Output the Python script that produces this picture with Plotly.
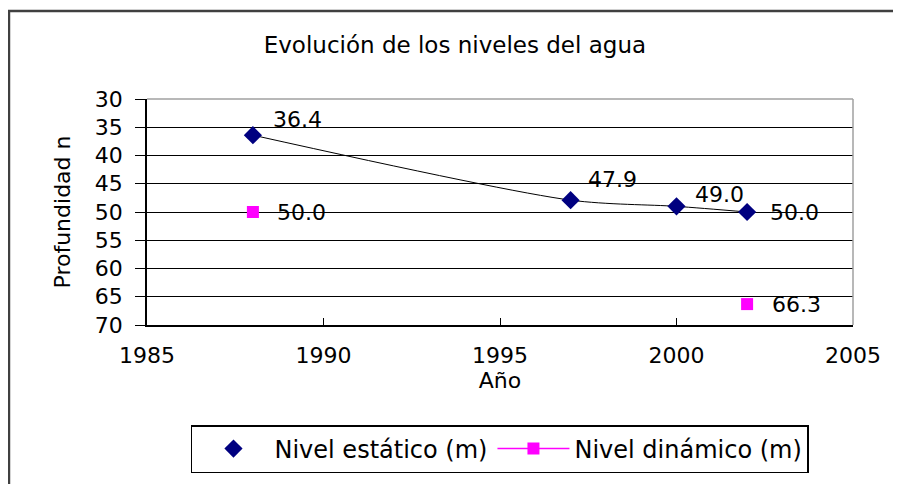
import plotly.graph_objects as go

# ---- data ----
anios_estatico = [1988, 1997, 2000, 2002]
nivel_estatico = [36.4, 47.9, 49.0, 50.0]
anios_dinamico = [1988, 1997, 2000, 2002]
nivel_dinamico = [50.0, None, None, 66.3]
y_ticks = [30, 35, 40, 45, 50, 55, 60, 65, 70]
x_ticks = [1985, 1990, 1995, 2000, 2005]

FONT = "DejaVu Sans, Verdana, sans-serif"
FS = 22

fig = go.Figure()

# smooth trend curve through static level points
fig.add_trace(go.Scatter(
    x=anios_estatico, y=nivel_estatico, mode="lines",
    line=dict(color="black", width=1, shape="spline", smoothing=0.8),
    showlegend=False, hoverinfo="skip"))

fig.add_trace(go.Scatter(
    x=anios_estatico, y=nivel_estatico, mode="markers",
    name="Nivel estático (m)",
    marker=dict(symbol="diamond", color="#000080", size=14)))

fig.add_trace(go.Scatter(
    x=anios_dinamico, y=nivel_dinamico, mode="lines+markers",
    name="Nivel dinámico (m)", connectgaps=False,
    line=dict(color="#FF00FF", width=1.5),
    marker=dict(symbol="square", color="#FF00FF", size=12)))

# data labels
est_offsets = [(45, 16), (42, 21), (43, 12), (47, 0)]
for xv, yv, (dx, dy) in zip(anios_estatico, nivel_estatico, est_offsets):
    fig.add_annotation(x=xv, y=yv, text=f"{yv:.1f}", showarrow=False,
                       xshift=dx, yshift=dy, font=dict(family=FONT, size=FS, color="black"))
for xv, yv in zip(anios_dinamico, nivel_dinamico):
    if yv is None:
        continue
    fig.add_annotation(x=xv, y=yv, text=f"{yv:.1f}", showarrow=False,
                       xshift=49, yshift=0, font=dict(family=FONT, size=FS, color="black"))

# plot-area top/right gray border and outer chart border
fig.add_shape(type="line", xref="paper", yref="paper", x0=0, x1=1, y0=1, y1=1,
              line=dict(color="#a0a0a0", width=1.5), layer="above")
fig.add_shape(type="line", xref="paper", yref="paper", x0=1, x1=1, y0=0, y1=1,
              line=dict(color="#a0a0a0", width=1.5), layer="above")
fig.add_shape(type="rect", xref="paper", yref="paper",
              x0=-0.1955, x1=1.2, y0=-0.9, y1=1.389,
              line=dict(color="#404040", width=2.5), layer="above")

fig.update_layout(
    width=901, height=484,
    margin=dict(l=139, r=56, t=91, b=167),
    paper_bgcolor="white", plot_bgcolor="white",
    font=dict(family=FONT, size=FS, color="black"),
    title=dict(text="Evolución de los niveles del agua", x=0.496, xref="container",
               xanchor="center", y=0.9236, yanchor="middle",
               font=dict(family=FONT, size=23, color="black")),
    showlegend=True,
    legend=dict(orientation="h", x=0.0623, y=-0.4425, xanchor="left", yanchor="top",
                bordercolor="black", borderwidth=1.5, bgcolor="white",
                font=dict(family=FONT, size=24, color="black"), itemwidth=72),
    xaxis=dict(range=[1985, 2005], tickvals=x_ticks, ticks="inside", ticklen=7,
               tickcolor="black", showline=True, linecolor="black", linewidth=1.5,
               showgrid=False, zeroline=False, ticklabelstandoff=10,
               title=dict(text="Año", standoff=0, font=dict(family=FONT, size=FS))),
    yaxis=dict(range=[70, 30], tickvals=y_ticks, ticks="outside", ticklen=10,
               tickcolor="black", showline=True, linecolor="black", linewidth=1.5,
               showgrid=True, gridcolor="black", gridwidth=1.2, zeroline=False,
               ticklabelstandoff=8,
               title=dict(text="Profundidad n", standoff=18, font=dict(family=FONT, size=FS))),
)

fig.write_html("out.html")
